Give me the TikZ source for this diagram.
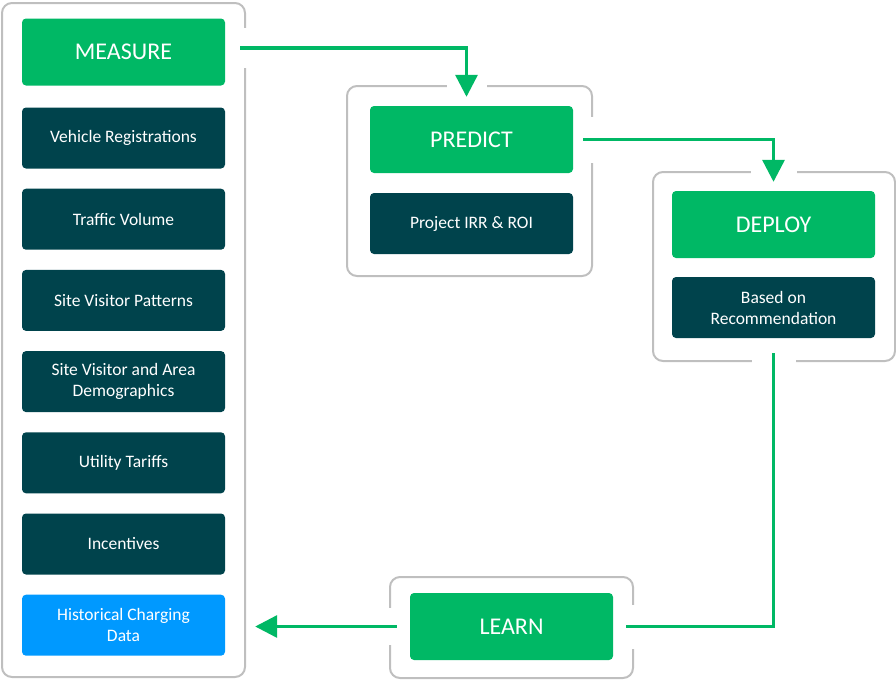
\documentclass[tikz,border=0pt]{standalone}
\usepackage{fontspec}
\setmainfont{Carlito}
\usetikzlibrary{positioning, arrows.meta}
\definecolor{leafgreen}{HTML}{00B865}
\definecolor{deepteal}{HTML}{00434C}
\definecolor{skyblue}{HTML}{0099FF}
\definecolor{framegray}{HTML}{BFBFBF}

\begin{document}
\begin{tikzpicture}[x=1pt, y=1pt]
\tikzset{
stage/.style={rectangle, rounded corners=4pt, fill=leafgreen, text=white, minimum width=203pt, minimum height=67pt, inner sep=0pt, font=\fontsize{24}{28}\selectfont}, % big green step boxes
item/.style={rectangle, rounded corners=4pt, fill=deepteal, text=white, minimum width=203pt, minimum height=61pt, inner sep=0pt, align=center, font=\fontsize{17.5}{21}\selectfont}, % dark boxes under a step
group/.style={rectangle, rounded corners=10pt, draw=framegray, line width=2pt, inner sep=0pt}, % gray frame round each step
flow/.style={draw=leafgreen, line width=3.2pt, -{Triangle[length=22pt, width=22pt]}}, % green arrows between the steps
cut/.style={preaction={draw=white, line width=#1, -}}, % opens the frame where an arrow crosses it
}
	\useasboundingbox (0,0) rectangle (896,-681);

	% frames
	\node[group, minimum width=243pt, minimum height=674pt] (measureframe) at (123.5,-340) {};
	\node[group, minimum width=245pt, minimum height=190pt] (predictframe) at (469.5,-181) {};
	\node[group, minimum width=242pt, minimum height=189pt] (deployframe) at (774,-266.5) {};
	\node[group, minimum width=243pt, minimum height=101pt] (learnframe) at (511.5,-627.5) {};

	% measure column
	\node[stage] (measure) at (123.5,-52) {MEASURE};
	\node[item, below of=measure, node distance=86pt] (vehicles) {Vehicle Registrations};
	\node[item, below of=vehicles, node distance=81.2pt] (traffic) {Traffic Volume};
	\node[item, below of=traffic, node distance=81.2pt] (visitors) {Site Visitor Patterns};
	\node[item, below of=visitors, node distance=81.2pt] (demographics) {Site Visitor and Area\\Demographics};
	\node[item, below of=demographics, node distance=81.2pt] (tariffs) {Utility Tariffs};
	\node[item, below of=tariffs, node distance=81.2pt] (incentives) {Incentives};
	\node[item, fill=skyblue, below of=incentives, node distance=81.2pt] (history) {Historical Charging\\Data};

	% predict, deploy, learn
	\node[stage] (predict) at (471.5,-139.5) {PREDICT};
	\node[item, below of=predict, node distance=84pt] (roi) {Project IRR \& ROI};
	\node[stage] (deploy) at (773.5,-224.5) {DEPLOY};
	\node[item, below of=deploy, node distance=83pt] (advice) {Based on\\Recommendation};
	\node[stage] (learn) at (511.5,-626.5) {LEARN};

	% the loop
	\draw[flow, cut=40, shorten <=15pt, shorten >=9pt] ([yshift=4pt]measure.east) -| ([xshift=-5pt]predict.north);
	\draw[flow, cut=46, shorten <=10pt, shorten >=9pt] (predict.east) -| (deploy.north);
	\draw[flow, -, cut=44, shorten <=15pt, shorten >=13pt] (advice.south) |- (learn.east);
	\draw[flow, cut=37, shorten <=13pt, shorten >=30pt] (learn.west) -- (learn.west -| history.east);
\end{tikzpicture}
\end{document}
